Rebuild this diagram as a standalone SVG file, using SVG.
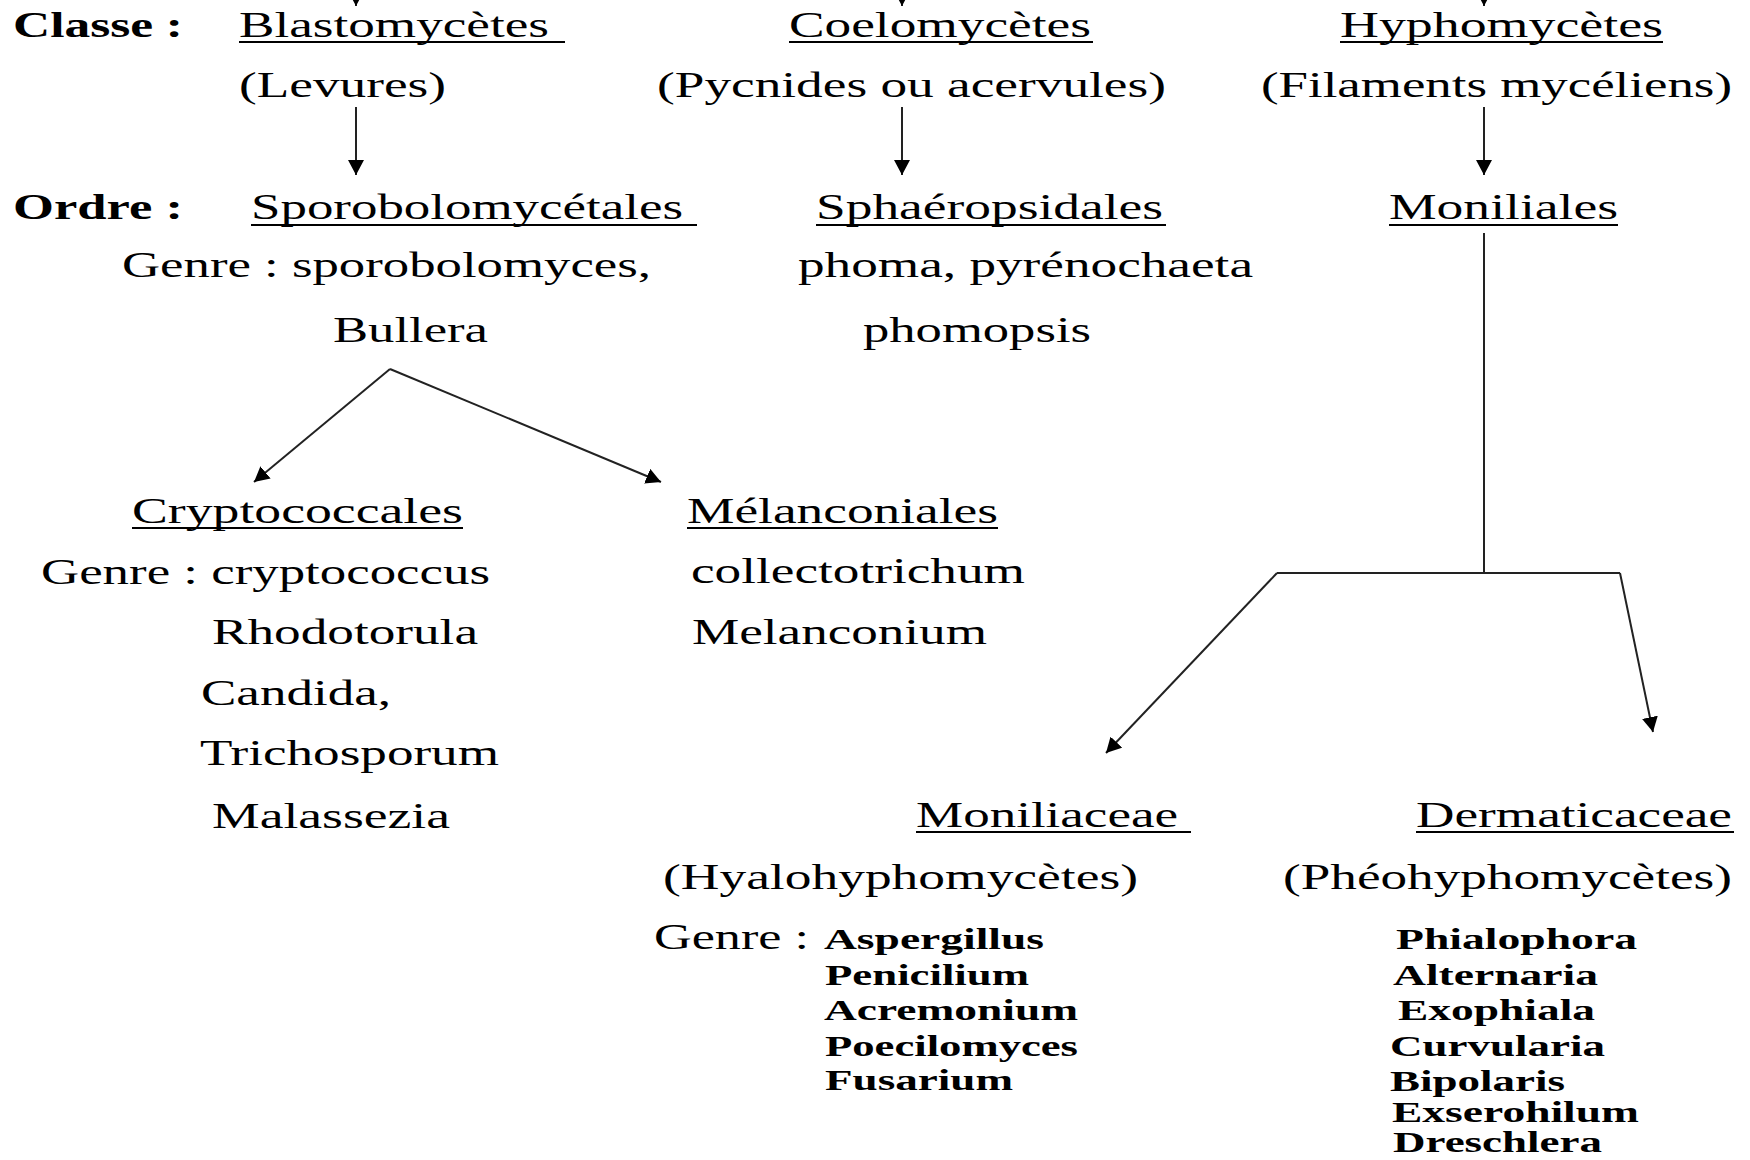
<svg xmlns="http://www.w3.org/2000/svg" width="1750" height="1160" viewBox="0 0 1750 1160">
<style>
text { font-family: "Liberation Serif", "Times New Roman", serif; fill: #000; }
.t { font-size: 35px; }
.b { font-size: 35px; font-weight: bold; }
.s { font-size: 30px; font-weight: bold; }
.u { stroke: #000; stroke-width: 2; }
.c { stroke: #222; stroke-width: 2; fill: none; }
.a { marker-end: url(#arr); }
</style>
<defs>
<marker id="arr" viewBox="0 0 15 16" refX="15" refY="8" markerWidth="15" markerHeight="16" markerUnits="userSpaceOnUse" orient="auto">
<path d="M0,0 L15,8 L0,16 z" fill="#000"/>
</marker>
</defs>
<rect x="0" y="0" width="1750" height="1160" fill="#fff"/>

<g id="connectors">
<line class="c a" x1="356" y1="-30" x2="356" y2="6"/>
<line class="c a" x1="902" y1="-30" x2="902" y2="6"/>
<line class="c a" x1="1484" y1="-30" x2="1484" y2="6"/>
<line class="c a" x1="356" y1="107" x2="356" y2="175"/>
<line class="c a" x1="902" y1="107" x2="902" y2="175"/>
<line class="c a" x1="1484" y1="107" x2="1484" y2="175"/>
<path class="c a" d="M390,369 L254,482"/>
<path class="c a" d="M390,369 L661,482"/>
<path class="c" d="M1484,233 V573"/>
<path class="c" d="M1277,573 H1620"/>
<path class="c a" d="M1277,573 L1106,753"/>
<path class="c a" d="M1620,573 L1653,732"/>
</g>

<g id="label-classe">
<text class="b" x="13" y="37" textLength="170" lengthAdjust="spacingAndGlyphs">Classe :</text>
</g>
<g id="label-ordre">
<text class="b" x="13" y="219" textLength="170" lengthAdjust="spacingAndGlyphs">Ordre :</text>
</g>

<g id="blastomycetes">
<text class="t" x="239" y="37" textLength="310" lengthAdjust="spacingAndGlyphs">Blastomycètes</text>
<line class="u" x1="239" y1="42" x2="565" y2="42"/>
<text class="t" x="239" y="97" textLength="207" lengthAdjust="spacingAndGlyphs">(Levures)</text>
</g>

<g id="coelomycetes">
<text class="t" x="789" y="37" textLength="302" lengthAdjust="spacingAndGlyphs">Coelomycètes</text>
<line class="u" x1="789" y1="42" x2="1093" y2="42"/>
<text class="t" x="657" y="97" textLength="509" lengthAdjust="spacingAndGlyphs">(Pycnides ou acervules)</text>
</g>

<g id="hyphomycetes">
<text class="t" x="1340" y="37" textLength="323" lengthAdjust="spacingAndGlyphs">Hyphomycètes</text>
<line class="u" x1="1340" y1="42" x2="1663" y2="42"/>
<text class="t" x="1261" y="97" textLength="471" lengthAdjust="spacingAndGlyphs">(Filaments mycéliens)</text>
</g>

<g id="sporobolomycetales">
<text class="t" x="251" y="219" textLength="432" lengthAdjust="spacingAndGlyphs">Sporobolomycétales</text>
<line class="u" x1="251" y1="225" x2="697" y2="225"/>
<text class="t" x="122" y="277" textLength="529" lengthAdjust="spacingAndGlyphs">Genre : sporobolomyces,</text>
<text class="t" x="333" y="342" textLength="155" lengthAdjust="spacingAndGlyphs">Bullera</text>
</g>

<g id="sphaeropsidales">
<text class="t" x="816" y="219" textLength="347" lengthAdjust="spacingAndGlyphs">Sphaéropsidales</text>
<line class="u" x1="816" y1="225" x2="1166" y2="225"/>
<text class="t" x="798" y="277" textLength="455" lengthAdjust="spacingAndGlyphs">phoma, pyrénochaeta</text>
<text class="t" x="863" y="342" textLength="228" lengthAdjust="spacingAndGlyphs">phomopsis</text>
</g>

<g id="moniliales">
<text class="t" x="1389" y="219" textLength="229" lengthAdjust="spacingAndGlyphs">Moniliales</text>
<line class="u" x1="1389" y1="225" x2="1618" y2="225"/>
</g>

<g id="cryptococcales">
<text class="t" x="132" y="523" textLength="331" lengthAdjust="spacingAndGlyphs">Cryptococcales</text>
<line class="u" x1="132" y1="528" x2="463" y2="528"/>
<text class="t" x="41" y="584" textLength="449" lengthAdjust="spacingAndGlyphs">Genre : cryptococcus</text>
<text class="t" x="212" y="644" textLength="266" lengthAdjust="spacingAndGlyphs">Rhodotorula</text>
<text class="t" x="201" y="705" textLength="190" lengthAdjust="spacingAndGlyphs">Candida,</text>
<text class="t" x="200" y="765" textLength="299" lengthAdjust="spacingAndGlyphs">Trichosporum</text>
<text class="t" x="212" y="828" textLength="238" lengthAdjust="spacingAndGlyphs">Malassezia</text>
</g>

<g id="melanconiales">
<text class="t" x="687" y="523" textLength="311" lengthAdjust="spacingAndGlyphs">Mélanconiales</text>
<line class="u" x1="687" y1="528" x2="998" y2="528"/>
<text class="t" x="691" y="583" textLength="334" lengthAdjust="spacingAndGlyphs">collectotrichum</text>
<text class="t" x="692" y="644" textLength="295" lengthAdjust="spacingAndGlyphs">Melanconium</text>
</g>

<g id="moniliaceae">
<text class="t" x="916" y="827" textLength="262" lengthAdjust="spacingAndGlyphs">Moniliaceae</text>
<line class="u" x1="916" y1="832" x2="1191" y2="832"/>
<text class="t" x="663" y="889" textLength="475" lengthAdjust="spacingAndGlyphs">(Hyalohyphomycètes)</text>
<text class="t" x="654" y="949" textLength="155" lengthAdjust="spacingAndGlyphs">Genre :</text>
<text class="s" x="824" y="949" textLength="220" lengthAdjust="spacingAndGlyphs">Aspergillus</text>
<text class="s" x="825" y="985" textLength="204" lengthAdjust="spacingAndGlyphs">Penicilium</text>
<text class="s" x="824" y="1020" textLength="254" lengthAdjust="spacingAndGlyphs">Acremonium</text>
<text class="s" x="825" y="1056" textLength="253" lengthAdjust="spacingAndGlyphs">Poecilomyces</text>
<text class="s" x="825" y="1090" textLength="188" lengthAdjust="spacingAndGlyphs">Fusarium</text>
</g>

<g id="dermaticaceae">
<text class="t" x="1416" y="827" textLength="316" lengthAdjust="spacingAndGlyphs">Dermaticaceae</text>
<line class="u" x1="1416" y1="832" x2="1734" y2="832"/>
<text class="t" x="1283" y="889" textLength="449" lengthAdjust="spacingAndGlyphs">(Phéohyphomycètes)</text>
<text class="s" x="1396" y="949" textLength="241" lengthAdjust="spacingAndGlyphs">Phialophora</text>
<text class="s" x="1393" y="985" textLength="205" lengthAdjust="spacingAndGlyphs">Alternaria</text>
<text class="s" x="1398" y="1020" textLength="197" lengthAdjust="spacingAndGlyphs">Exophiala</text>
<text class="s" x="1390" y="1056" textLength="215" lengthAdjust="spacingAndGlyphs">Curvularia</text>
<text class="s" x="1390" y="1091" textLength="175" lengthAdjust="spacingAndGlyphs">Bipolaris</text>
<text class="s" x="1392" y="1122" textLength="247" lengthAdjust="spacingAndGlyphs">Exserohilum</text>
<text class="s" x="1393" y="1152" textLength="209" lengthAdjust="spacingAndGlyphs">Dreschlera</text>
</g>
</svg>
